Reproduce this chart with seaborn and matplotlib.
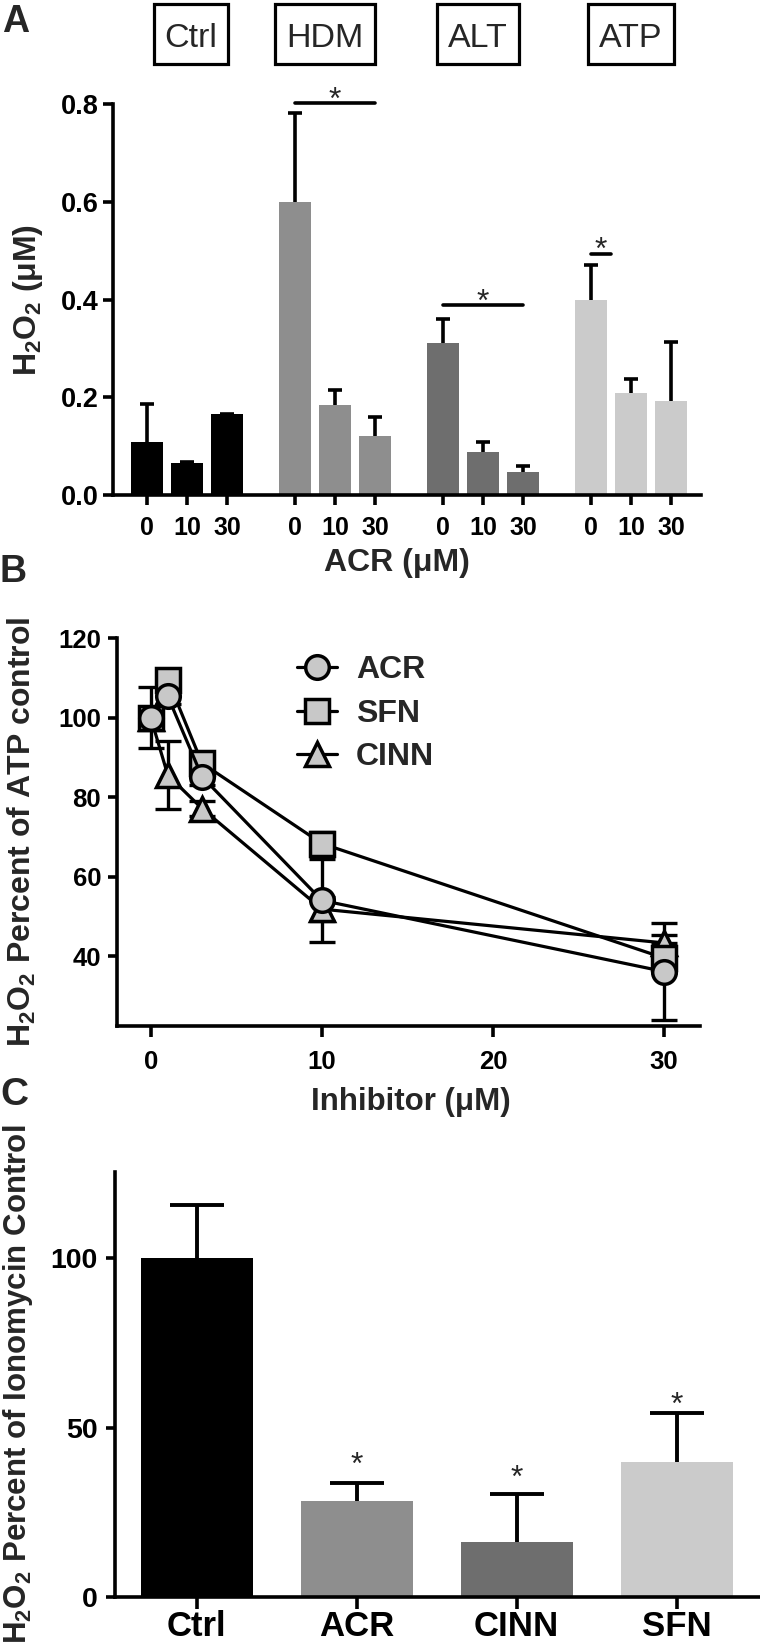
import numpy as np
import pandas as pd
import matplotlib
matplotlib.use('Agg')
import matplotlib.pyplot as plt
from matplotlib.lines import Line2D
from matplotlib.patches import Rectangle
import seaborn as sns

# ---- panel A: H2O2 after ACR pre-treatment ----
groups_a = ['Ctrl', 'HDM', 'ALT', 'ATP']
doses_a = ['0', '10', '30']
h2o2_a = [[0.108, 0.066, 0.165],
          [0.599, 0.184, 0.121],
          [0.310, 0.087, 0.047],
          [0.400, 0.209, 0.192]]
sem_a = [[0.078, 0.002, 0.0],
         [0.183, 0.030, 0.039],
         [0.051, 0.022, 0.013],
         [0.071, 0.029, 0.121]]
colors_a = ['#000000', '#8e8e8e', '#6e6e6e', '#cbcbcb']
# (group, from dose index, to dose index, bar height)
sig_a = [('HDM', 0, 2, 0.802), ('ALT', 0, 2, 0.388), ('ATP', 0, 0.5, 0.494)]

# ---- panel B: dose response ----
conc_b = [0, 1, 3, 10, 30]
acr_b = [100, 105.3, 85.1, 54.0, 36.1]
acr_err = [7.6, 2.0, 2.0, 10.5, 12.3]
sfn_b = [100, 109.5, 88.5, 68.3, 39.5]
sfn_err = [2.0, 2.0, 2.0, 3.0, 3.8]
cinn_b = [100, 85.5, 77.1, 51.8, 43.3]
cinn_err = [2.0, 8.6, 2.0, 3.0, 2.0]

# ---- panel C: ionomycin ----
drugs_c = ['Ctrl', 'ACR', 'CINN', 'SFN']
pct_c = [100, 28.3, 16.3, 39.8]
err_c = [15.8, 5.4, 14.2, 14.6]
colors_c = ['#000000', '#8e8e8e', '#6e6e6e', '#cbcbcb']
star_c = [None, 41.7, 37.8, 59.4]

sns.set_style('ticks')
plt.rcParams['font.family'] = ['Liberation Sans', 'DejaVu Sans']
plt.rcParams['font.weight'] = 'bold'
plt.rcParams['axes.labelweight'] = 'bold'
plt.rcParams['mathtext.fontset'] = 'custom'
plt.rcParams['mathtext.rm'] = 'Liberation Sans:bold'
plt.rcParams['mathtext.bf'] = 'Liberation Sans:bold'
plt.rcParams['mathtext.it'] = 'Liberation Sans:bold'
plt.rcParams['mathtext.default'] = 'bf'
plt.rcParams['axes.linewidth'] = 2.6
plt.rcParams['xtick.major.width'] = 2.6
plt.rcParams['ytick.major.width'] = 2.6
plt.rcParams['xtick.color'] = 'black'
plt.rcParams['ytick.color'] = 'black'
plt.rcParams['axes.edgecolor'] = 'black'

W, H = 760, 1648
fig = plt.figure(figsize=(W / 100, H / 100), dpi=100)
H2O2 = r'H$_2$O$_2$'


def px_box(left, top, right, bottom):
    return [left / W, 1 - bottom / H, (right - left) / W, (bottom - top) / H]


def star(ax, x, yc, fs=23):
    ax.annotate('*', xy=(x, yc), xytext=(0, -0.56 * fs), textcoords='offset points',
                ha='center', va='baseline', fontsize=fs, fontweight='normal',
                annotation_clip=False)


def upper_errbars(ax, x, y, err, lw, cap):
    eb = ax.errorbar(x, y, yerr=[np.zeros(len(y)), err], fmt='none', ecolor='k',
                     elinewidth=lw, capsize=cap, capthick=lw)
    eb[1][0].set_visible(False)  # no cap at the bar top


# ================= A =================
ax = fig.add_axes(px_box(113, 104, 701, 495))
step = 3.7
rows = []
for g, grp in enumerate(groups_a):
    for i, d in enumerate(doses_a):
        rows.append({'pos': g * step + i, 'val': h2o2_a[g][i], 'err': sem_a[g][i],
                     'grp': grp, 'dose': d})
df_a = pd.DataFrame(rows)
sns.barplot(data=df_a, x='pos', y='val', hue='grp', palette=dict(zip(groups_a, colors_a)),
            native_scale=True, dodge=False, width=0.8, errorbar=None, legend=False,
            linewidth=0, ax=ax)
upper_errbars(ax, df_a['pos'], df_a['val'], df_a['err'], 2.6, 4.7)
ax.set_xlim(-0.85, 13.85)
ax.set_ylim(0, 0.8)
ax.set_yticks([0.0, 0.2, 0.4, 0.6, 0.8])
ax.set_yticklabels(['0.0', '0.2', '0.4', '0.6', '0.8'])
ax.set_xticks(df_a['pos'])
ax.set_xticklabels(df_a['dose'])
ax.tick_params(axis='y', length=7, pad=3, labelsize=19.5)
ax.tick_params(axis='x', length=7, pad=8, labelsize=18)
sns.despine(ax=ax)
ax.set_xlabel('ACR (μM)', fontsize=23)
ax.xaxis.label.set_va('center')
ax.xaxis.set_label_coords(0.483, -0.174)
ax.set_ylabel(H2O2 + ' (μM)', fontsize=23)
ax.yaxis.label.set_va('center')
ax.yaxis.set_label_coords(-0.145, 0.5)
for grp, i0, i1, yb in sig_a:
    g = groups_a.index(grp)
    x0, x1 = g * step + i0, g * step + i1
    ax.plot([x0, x1], [yb, yb], color='k', lw=2.6, clip_on=False)
    star(ax, (x0 + x1) / 2, yb + 0.025)
box_x_px = [191, 325, 478, 631]
box_texts = []
for grp, bx in zip(groups_a, box_x_px):
    t = fig.text(bx / W, 1 - 47 / H, grp, ha='center', va='baseline',
                 fontsize=24.5, fontweight='normal')
    box_texts.append(t)

# ================= B =================
ax = fig.add_axes(px_box(117, 638, 700, 1026))
df_b = pd.DataFrame({
    'conc': conc_b * 3,
    'val': cinn_b + sfn_b + acr_b,
    'drug': ['CINN'] * 5 + ['SFN'] * 5 + ['ACR'] * 5,
})
for vals, errs in [(acr_b, acr_err), (sfn_b, sfn_err), (cinn_b, cinn_err)]:
    ax.errorbar(conc_b, vals, yerr=errs, fmt='none', ecolor='k', elinewidth=2.4,
                capsize=9.4, capthick=2.4, zorder=1)
markers = {'ACR': 'o', 'SFN': 's', 'CINN': '^'}
sns.lineplot(data=df_b, x='conc', y='val', hue='drug', style='drug',
             hue_order=['CINN', 'SFN', 'ACR'], style_order=['CINN', 'SFN', 'ACR'],
             palette={'ACR': 'k', 'SFN': 'k', 'CINN': 'k'}, markers=markers, dashes=False,
             errorbar=None, legend=False, linewidth=2.3, markersize=17,
             markerfacecolor='#c8c8c8', markeredgecolor='k', markeredgewidth=2.5, ax=ax)
ax.set_xlim(-1.97, 32.1)
ax.set_ylim(22.4, 120)
ax.set_xticks([0, 10, 20, 30])
ax.set_yticks([40, 60, 80, 100, 120])
ax.tick_params(axis='y', length=6.5, pad=5, labelsize=18.5)
ax.tick_params(axis='x', length=8, pad=9, labelsize=18.5)
sns.despine(ax=ax)
ax.set_xlabel('Inhibitor (μM)', fontsize=22.5)
ax.xaxis.label.set_va('center')
ax.xaxis.set_label_coords(0.504, -0.196)
ax.set_ylabel(H2O2 + ' Percent of ATP control', fontsize=23)
ax.yaxis.label.set_va('center')
ax.yaxis.set_label_coords(-0.163, 0.5)
handles = [Line2D([], [], color='k', lw=2.3, marker=markers[d], ms=17,
                  mfc='#c8c8c8', mec='k', mew=2.5) for d in ['ACR', 'SFN', 'CINN']]
ax.legend(handles, ['ACR', 'SFN', 'CINN'], loc='upper left', bbox_to_anchor=(0.309, 0.955),
          frameon=False, fontsize=23, handlelength=1.25, handletextpad=0.6,
          labelspacing=0.42, borderpad=0, borderaxespad=0)

# ================= C =================
ax = fig.add_axes(px_box(115, 1172, 760, 1597))
sns.barplot(x=drugs_c, y=pct_c, hue=drugs_c, palette=colors_c, width=0.7,
            errorbar=None, legend=False, linewidth=0, ax=ax)
upper_errbars(ax, range(len(drugs_c)), pct_c, err_c, 2.8, 19.4)
for i, s in enumerate(star_c):
    if s is not None:
        star(ax, i, s)
ax.set_xlim(-0.51, 3.52)
ax.set_ylim(0, 125.5)
ax.set_yticks([0, 50, 100])
ax.tick_params(axis='y', length=6.5, pad=6, labelsize=20.5)
ax.tick_params(axis='x', length=8.5, pad=0.5, labelsize=25)
sns.despine(ax=ax)
ax.set_ylabel(H2O2 + ' Percent of Ionomycin Control', fontsize=22.5)
ax.yaxis.label.set_va('center')
ax.yaxis.set_label_coords(-0.150, 0.5)

# panel letters
fig.text(16 / W, 1 - 32 / H, 'A', fontsize=27, ha='center', va='baseline')
fig.text(13 / W, 1 - 582 / H, 'B', fontsize=27, ha='center', va='baseline')
fig.text(14 / W, 1 - 1105 / H, 'C', fontsize=28, ha='center', va='baseline')

# boxes round the panel A group names (fixed height, width from text)
renderer = fig.canvas.get_renderer()
for t in box_texts:
    bb = t.get_window_extent(renderer)
    cx = (bb.x0 + bb.x1) / 2
    w = bb.width + 22
    fig.add_artist(Rectangle(((cx - w / 2) / W, 1 - 64 / H), w / W, 60 / H,
                             transform=fig.transFigure, fill=False, ec='black', lw=2.3))

fig.savefig('out.png', dpi=100)
